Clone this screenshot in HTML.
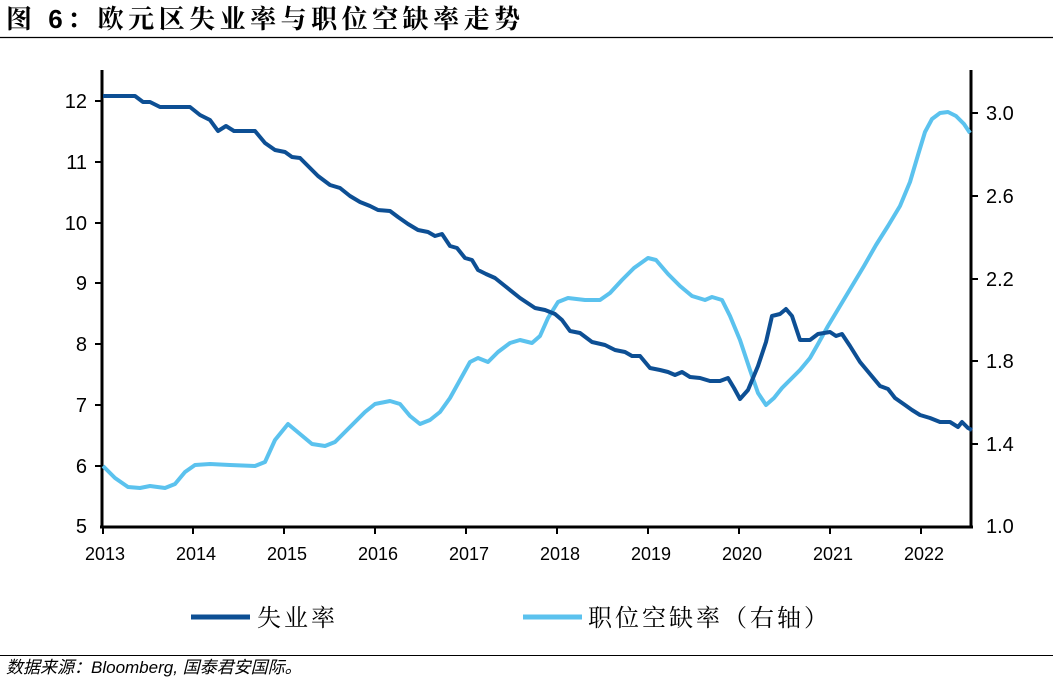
<!DOCTYPE html>
<html><head><meta charset="utf-8"><style>
body{margin:0;background:#fff;width:1053px;height:681px;overflow:hidden;font-family:"Liberation Sans","Noto Sans CJK SC",sans-serif}
</style></head><body>
<svg width="1053" height="681" xmlns="http://www.w3.org/2000/svg" style="position:absolute;left:0;top:0">
<text x="6" y="28" font-size="26" font-weight="bold" font-family="Liberation Sans,Noto Serif CJK SC,serif" letter-spacing="4.5">图 6：欧元区失业率与职位空缺率走势</text>
<line x1="0" y1="37.5" x2="1053" y2="37.5" stroke="#000" stroke-width="1.2"/>
<g stroke="#000" stroke-width="3" fill="none">
<line x1="102" y1="70" x2="102" y2="527"/>
<line x1="971" y1="70" x2="971" y2="527"/>
<line x1="100" y1="527" x2="973" y2="527"/>
</g>
<g stroke="#000" stroke-width="2">
<line x1="95" y1="101" x2="102" y2="101"/><line x1="95" y1="162" x2="102" y2="162"/><line x1="95" y1="223" x2="102" y2="223"/><line x1="95" y1="283" x2="102" y2="283"/><line x1="95" y1="344" x2="102" y2="344"/><line x1="95" y1="405" x2="102" y2="405"/><line x1="95" y1="466" x2="102" y2="466"/>
<line x1="971" y1="113" x2="978" y2="113"/><line x1="971" y1="196" x2="978" y2="196"/><line x1="971" y1="279" x2="978" y2="279"/><line x1="971" y1="361" x2="978" y2="361"/><line x1="971" y1="444" x2="978" y2="444"/>
<line x1="103" y1="527" x2="103" y2="534"/><line x1="193" y1="527" x2="193" y2="534"/><line x1="284" y1="527" x2="284" y2="534"/><line x1="375" y1="527" x2="375" y2="534"/><line x1="466" y1="527" x2="466" y2="534"/><line x1="557" y1="527" x2="557" y2="534"/><line x1="648" y1="527" x2="648" y2="534"/><line x1="739" y1="527" x2="739" y2="534"/><line x1="830" y1="527" x2="830" y2="534"/><line x1="921" y1="527" x2="921" y2="534"/>
</g>
<g font-size="20" text-anchor="end">
<text x="87" y="108">12</text><text x="87" y="169">11</text><text x="87" y="230">10</text><text x="87" y="290">9</text><text x="87" y="351">8</text><text x="87" y="412">7</text><text x="87" y="473">6</text><text x="87" y="533">5</text>
</g>
<g font-size="20">
<text x="986" y="120">3.0</text><text x="986" y="203">2.6</text><text x="986" y="286">2.2</text><text x="986" y="368">1.8</text><text x="986" y="451">1.4</text><text x="986" y="533">1.0</text>
</g>
<g font-size="18" text-anchor="middle">
<text x="105" y="560">2013</text><text x="196" y="560">2014</text><text x="287" y="560">2015</text><text x="378" y="560">2016</text><text x="469" y="560">2017</text><text x="560" y="560">2018</text><text x="651" y="560">2019</text><text x="742" y="560">2020</text><text x="833" y="560">2021</text><text x="924" y="560">2022</text>
</g>
<polyline fill="none" stroke="#5BC2EE" stroke-width="4" stroke-linejoin="round" points="103,466 115,478 128,487 140,488 150,486 165,488 175,484 185,472 195,465 210,464 230,465 255,466 265,462 275,440 288,424 300,434 312,444 325,446 335,442 345,432 355,422 365,412 375,404 390,401 400,404 410,416 420,424 430,420 440,412 450,398 460,380 470,362 478,358 488,362 498,352 510,343 520,340 532,343 540,336 548,318 558,302 568,298 585,300 600,300 610,293 622,280 634,268 648,258 656,260 668,274 680,286 692,296 705,300 712,297 722,300 730,316 740,340 750,370 758,393 766,405 774,398 782,388 790,380 800,370 810,358 818,344 828,326 840,306 852,286 864,266 876,245 888,226 900,206 910,182 918,155 925,132 932,119 940,113 948,112 956,116 964,124 970,133"/>
<polyline fill="none" stroke="#0D4F94" stroke-width="4" stroke-linejoin="round" points="103,96 135,96 143,102 150,102 160,107 190,107 200,115 210,120 218,131 226,126 234,131 255,131 265,143 275,150 285,152 292,157 300,158 310,168 318,176 330,185 340,188 350,196 360,202 370,206 378,210 390,211 398,217 408,224 418,230 428,232 435,236 442,234 450,246 457,248 465,258 472,260 478,270 486,274 495,278 505,286 520,298 535,308 545,310 555,314 562,320 570,331 580,333 592,342 605,345 615,350 625,352 632,356 640,356 650,368 660,370 668,372 675,375 682,372 690,377 700,378 710,381 720,381 728,378 734,388 740,399 748,390 758,366 766,342 772,316 780,314 786,309 792,316 800,340 810,340 818,334 830,332 836,336 842,334 850,346 860,362 870,374 880,386 888,389 895,398 905,405 912,410 920,415 930,418 940,422 950,422 958,427 962,422 968,428 972,430"/>
<line x1="191" y1="617" x2="250" y2="617" stroke="#0D4F94" stroke-width="5"/>
<text x="257" y="626" font-size="24" font-family="Noto Serif CJK SC,serif" letter-spacing="3">失业率</text>
<line x1="523" y1="617" x2="582" y2="617" stroke="#5BC2EE" stroke-width="5"/>
<text x="588" y="626" font-size="24" font-family="Noto Serif CJK SC,serif" letter-spacing="3">职位空缺率（右轴）</text>
<line x1="0" y1="655.5" x2="1053" y2="655.5" stroke="#000" stroke-width="1"/>
<text x="6" y="673" font-size="17" font-style="italic">数据来源：Bloomberg, 国泰君安国际。</text>
</svg>
</body></html>
